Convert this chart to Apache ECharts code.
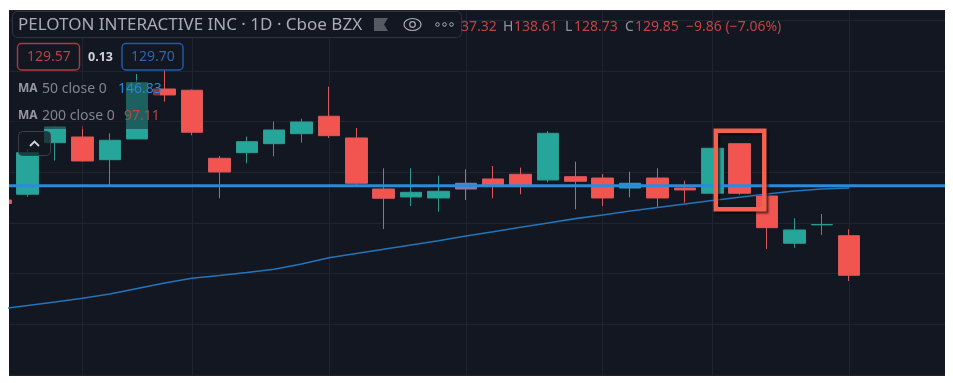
<!DOCTYPE html>
<html>
<head>
<meta charset="utf-8">
<style>
  html, body { margin: 0; padding: 0; background: #fff; }
  #chart { width: 953px; height: 383px; }
</style>
<script src="https://cdn.jsdelivr.net/npm/echarts@6/dist/echarts.min.js"></script>
</head>
<body>
<div id="chart"></div>
<script>
// bar numbers, -1 is the candle cut off at the left edge
const days = [-1, 0, 1, 2, 3, 4, 5, 6, 7, 8, 9, 10, 11, 12, 13, 14, 15, 16, 17, 18, 19, 20, 21, 22, 23, 24, 25, 26, 27, 28, 29, 30]
const opens = [124.52, 125.65, 135.83, 136.95, 132.47, 136.56, 146.42, 146.17, 132.75, 133.86, 135.63, 137.60, 141.04, 136.76, 126.69, 125.12, 124.92, 127.82, 128.67, 129.59, 128.47, 129.12, 128.86, 126.89, 128.86, 126.89, 125.85, 135.63, 125.31, 115.98, 119.62, 117.48]
const closes = [123.83, 133.86, 138.93, 132.22, 136.30, 147.66, 145.24, 137.88, 130.05, 136.03, 138.33, 139.91, 137.21, 127.82, 124.86, 126.04, 126.24, 126.69, 127.29, 127.29, 137.68, 128.21, 124.92, 127.82, 124.92, 126.50, 134.72, 125.85, 119.06, 118.61, 119.68, 109.67]
const lows = [123.83, 125.18, 132.28, 132.08, 127.48, 136.56, 143.92, 137.29, 124.86, 131.76, 133.14, 135.83, 136.76, 127.48, 118.80, 123.34, 122.22, 124.52, 124.86, 125.65, 128.02, 122.69, 123.34, 125.06, 123.20, 124.01, 125.81, 125.57, 114.86, 115.11, 117.62, 108.54]
const highs = [124.52, 134.59, 139.12, 139.12, 137.68, 149.38, 150.17, 146.32, 133.20, 137.01, 139.97, 140.56, 146.88, 138.73, 130.78, 130.78, 129.32, 130.58, 131.23, 130.90, 138.14, 132.08, 129.65, 130.11, 130.78, 128.33, 134.78, 135.67, 125.51, 120.91, 121.76, 118.74]
const ma50 = [103.02, 103.71, 104.40, 105.13, 105.98, 107.07, 108.15, 109.08, 109.63, 110.22, 110.85, 111.90, 113.14, 113.97, 114.80, 115.65, 116.49, 117.42, 118.25, 119.14, 119.99, 120.84, 121.57, 122.36, 123.05, 123.74, 124.42, 125.06, 125.71, 126.30, 126.69, 126.89]
const lastPrice = 127.34
const gridDays = [2, 6, 11, 16, 21, 25, 30]
const boxDays = [25.13, 26.9]
const boxPrices = [122.7, 138.2]
// candles that sit right under the price line and look tinted
const tinted = { 16: '#8d78a6', 22: '#2b9fc4' }

const RED = '#f25550'
const GREEN = '#26a69a'
const BG = '#131722'
const GRIDLINE = '#20242f'
const FONT = '"Noto Sans", sans-serif'

const candles = days.map((d, i) => {
  const item = { value: [d, opens[i], closes[i], lows[i], highs[i]] }
  if (tinted[d]) item.itemStyle = { color: tinted[d], color0: tinted[d], borderColor: tinted[d], borderColor0: tinted[d] }
  return item
})

function label(x, y, text, color, size, weight) {
  return {
    type: 'text', x, y, z: 110,
    style: { text, fill: color, font: `${weight || 'normal'} ${size}px ${FONT}`, textVerticalAlign: 'middle' },
  }
}

function box(x, y, w, h, stroke, fill, r, lw) {
  return {
    type: 'rect', z: 105,
    shape: { x, y, width: w, height: h, r: r || 4 },
    style: { fill: fill || 'transparent', stroke, lineWidth: lw || 1 },
  }
}

const overlay = [
  // the cut off candle must not run into the white page margin
  { type: 'rect', z: 100, shape: { x: 0, y: 190, width: 9, height: 20 }, style: { fill: '#fff' } },
  // dimmed strip behind the MA legend
  { type: 'rect', z: 100, shape: { x: 14, y: 80, width: 146, height: 49 }, style: { fill: 'rgba(19,23,34,0.48)' } },

  box(12.5, 11.5, 449, 26, '#2f333e', BG, 5),
  label(18, 25, 'PELOTON INTERACTIVE INC · 1D · Cboe BZX', '#a9acb4', 17),
  { type: 'polygon', z: 110, shape: { points: [[374, 18], [388, 18], [384, 24.5], [388, 31], [374, 31]] }, style: { fill: '#565a63' } },
  { type: 'ellipse', z: 110, shape: { cx: 412.5, cy: 24.5, rx: 8.5, ry: 6 }, style: { fill: 'transparent', stroke: '#a9acb4', lineWidth: 1.2 } },
  { type: 'circle', z: 110, shape: { cx: 412.5, cy: 24.5, r: 2.8 }, style: { fill: 'transparent', stroke: '#a9acb4', lineWidth: 1.2 } },
  { type: 'circle', z: 110, shape: { cx: 437.5, cy: 24.5, r: 1.8 }, style: { fill: 'transparent', stroke: '#a9acb4', lineWidth: 1 } },
  { type: 'circle', z: 110, shape: { cx: 444.5, cy: 24.5, r: 1.8 }, style: { fill: 'transparent', stroke: '#a9acb4', lineWidth: 1 } },
  { type: 'circle', z: 110, shape: { cx: 451.5, cy: 24.5, r: 1.8 }, style: { fill: 'transparent', stroke: '#a9acb4', lineWidth: 1 } },

  label(461, 27, '37.32', '#c04544', 14),
  label(503, 27, 'H', '#8f929b', 14),
  label(514, 27, '138.61', '#c04544', 14),
  label(565, 27, 'L', '#8f929b', 14),
  label(574, 27, '128.73', '#c04544', 14),
  label(625, 27, 'C', '#8f929b', 14),
  label(635, 27, '129.85', '#c04544', 14),
  label(686, 27, '−9.86 (−7.06%)', '#c04544', 14),

  box(17.5, 43.5, 62, 26.5, '#b13a40', BG, 4, 1.4),
  label(27, 57.5, '129.57', '#b8404a', 14),
  label(88, 57, '0.13', '#d1d4dc', 12.5, 'bold'),
  box(122, 43.5, 61, 26.5, '#1f5ea8', BG, 4, 1.4),
  label(131, 57.5, '129.70', '#2a67ae', 14),

  label(18, 89, 'MA', '#9598a1', 12, 'bold'),
  label(42, 89, '50 close 0', '#82858f', 14),
  label(118, 89, '146.83', '#2687d8', 14),
  label(18, 116, 'MA', '#9598a1', 12, 'bold'),
  label(42, 116, '200 close 0', '#82858f', 14),
  label(124, 116, '97.11', '#b8483f', 14),

  box(18.5, 131.5, 32, 24, '#3a3e49', 'rgba(19,23,34,0.72)'),
  { type: 'polyline', z: 110, shape: { points: [[30, 146], [34.5, 141.5], [39, 146]] }, style: { fill: 'transparent', stroke: '#d1d4dc', lineWidth: 1.8 } },
]

const chart = echarts.init(document.getElementById('chart'), null, { renderer: 'canvas' })
chart.setOption({
  animation: false,
  backgroundColor: '#fff',
  grid: { left: 9, right: 8, top: 10, bottom: 8, show: true, backgroundColor: BG, borderWidth: 0 },
  xAxis: {
    type: 'value', min: -0.683, max: 33.5,
    axisLine: { show: false },
    axisTick: { show: false, customValues: gridDays },
    axisLabel: { show: false },
    splitLine: { show: true, lineStyle: { color: GRIDLINE, width: 1 } },
  },
  yAxis: {
    type: 'value', min: 90, max: 162, interval: 10,
    axisLine: { show: false }, axisTick: { show: false }, axisLabel: { show: false },
    splitLine: { show: true, lineStyle: { color: GRIDLINE, width: 1 } },
  },
  series: [
    {
      type: 'candlestick', z: 2, barWidth: 22, clip: true,
      data: candles,
      itemStyle: { color: GREEN, color0: RED, borderColor: '#2a9d90', borderColor0: '#d8595c', borderWidth: 1 },
    },
    {
      type: 'line', z: 3, symbol: 'none', silent: true, smooth: false,
      data: days.map((d, i) => [d, ma50[i]]),
      lineStyle: { color: '#2474b8', width: 1.6 },
    },
    {
      // last price line, the annotation box goes on top of it
      type: 'line', z: 4, symbol: 'none', silent: true,
      data: [[-0.683, lastPrice], [33.5, lastPrice]],
      lineStyle: { color: '#2a8bdc', width: 3 },
      markArea: {
        silent: true, z: 10,
        itemStyle: {
          color: 'rgba(0,0,0,0)', borderColor: '#f4614f', borderWidth: 4.5,
          shadowColor: 'rgba(0,0,0,0.6)', shadowBlur: 2, shadowOffsetX: 2, shadowOffsetY: 2,
        },
        data: [[{ coord: [boxDays[0], boxPrices[1]] }, { coord: [boxDays[1], boxPrices[0]] }]],
      },
    },
  ],
  graphic: overlay,
})
</script>
</body>
</html>
